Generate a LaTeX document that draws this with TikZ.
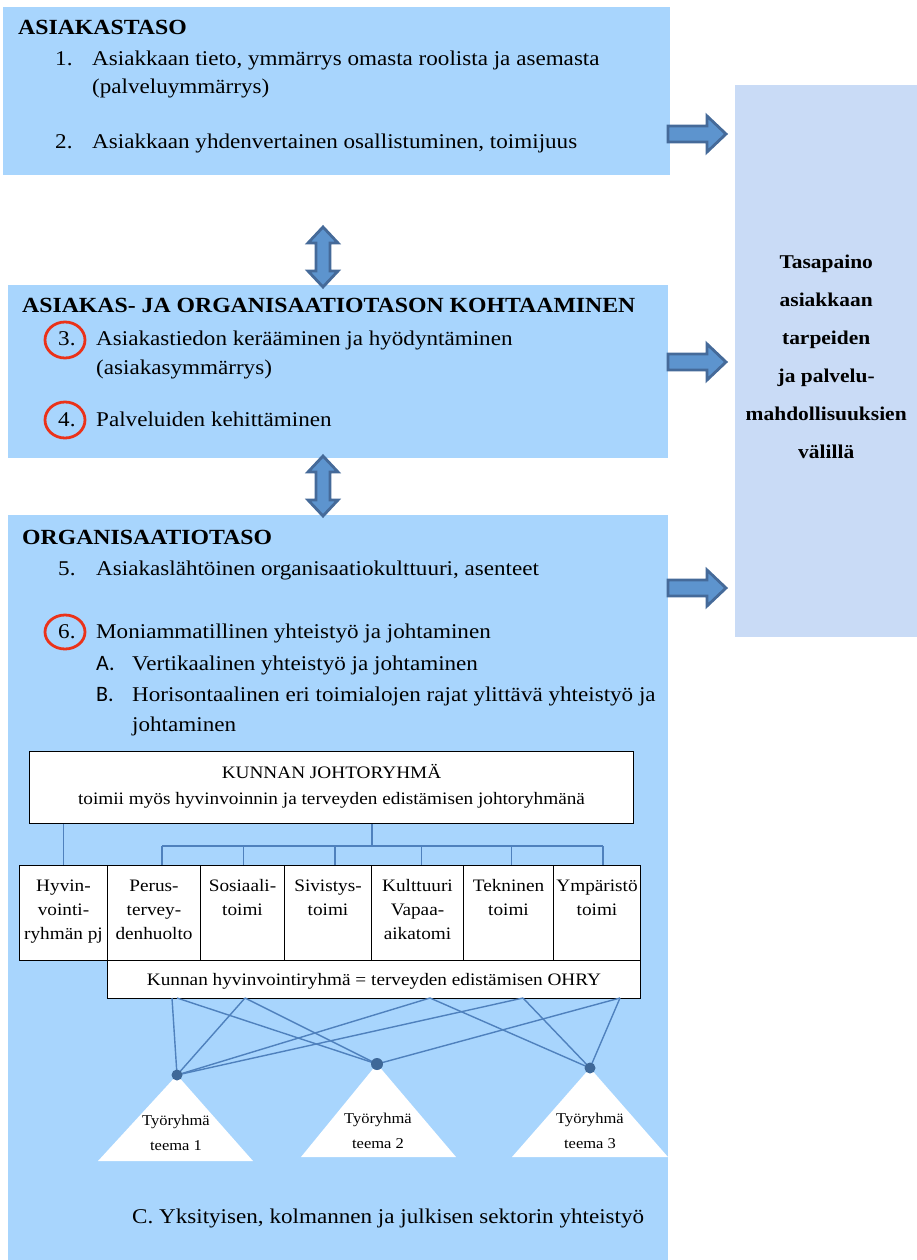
\documentclass[tikz,border=0pt]{standalone}
\usepackage{fontspec}
\setmainfont{Liberation Serif}[FakeStretch=1.1]
\newfontfamily\labelsans{Carlito}
\usetikzlibrary{calc}

\definecolor{levelblue}{RGB}{168,213,253}
\definecolor{balanceblue}{RGB}{201,219,246}
\definecolor{arrowdark}{RGB}{69,106,153}
\definecolor{arrowfill}{RGB}{93,148,206}
\definecolor{linkblue}{RGB}{79,129,189}
\definecolor{dotblue}{RGB}{62,104,152}
\definecolor{ringred}{RGB}{235,50,25}

\tikzset{
  levelbox/.style={fill=levelblue, inner sep=0pt, anchor=north west},
  balancebox/.style={fill=balanceblue, inner sep=0pt, anchor=north west},
  cellbox/.style={draw=black, fill=white, line width=1pt, inner sep=0pt, anchor=north west},
  bodytext/.style={font=\fontsize{21}{25}\selectfont, inner sep=0pt, anchor=base west},
  headtext/.style={font=\fontsize{21.6}{25}\selectfont\bfseries, inner sep=0pt, anchor=base west},
  lettertext/.style={font=\fontsize{22}{26}\selectfont\labelsans, inner sep=0pt, anchor=base west},
  balancetext/.style={font=\fontsize{19.5}{24}\selectfont\bfseries, inner sep=0pt, anchor=base},
  celltext/.style={font=\fontsize{17.5}{22}\selectfont, inner sep=0pt, anchor=base},
  teamtext/.style={font=\fontsize{15}{18}\selectfont, inner sep=0pt, anchor=base},
  ring/.style={draw=ringred, line width=2.8pt},
  orgline/.style={draw=linkblue, line width=1.2pt},
  teamline/.style={draw=linkblue, line width=1.4pt},
  blockarrow/.style={draw=arrowdark, fill=arrowfill, line width=2.8pt, line join=miter},
  rarrow/.pic={\draw[blockarrow] (0,-8) -- (39,-8) -- (39,-18) -- (58,0) -- (39,18) -- (39,8) -- (0,8) -- cycle;},
  udarrow/.pic={\draw[blockarrow] (0,1) -- (15,17) -- (7,17) -- (7,45) -- (15,45) -- (0,61) -- (-15,45) -- (-7,45) -- (-7,17) -- (-15,17) -- cycle;}
}

% multi-line labels centred in a cell, one node per line
\newcommand\celllines[2]{%
  \foreach \cl [count=\k] in {#2} {%
    \node[celltext] (#1-\k) at ($(#1.north)+(0,26+24*\k-24)$) {\cl};}}

\begin{document}
\begin{tikzpicture}[x=1pt,y=-1pt]
\useasboundingbox (0,0) rectangle (917,1260);

% the three levels and the balance column
\node[levelbox, minimum width=667, minimum height=168] (client) at (3,7) {};
\node[levelbox, minimum width=660, minimum height=173] (meeting) at (8,285) {};
\node[levelbox, minimum width=660, minimum height=745] (organisation) at (8,515) {};
\node[balancebox, minimum width=182, minimum height=552] (balance) at (735,85) {};

% arrows towards the balance column and between the levels
\pic at (668,134) {rarrow};
\pic at (668,362) {rarrow};
\pic at (668,588) {rarrow};
\pic at (323,226) {udarrow};
\pic at (323,455) {udarrow};

% client level
\node[headtext] (clientHead) at (18,35) {ASIAKASTASO};
\node[bodytext] (n1) at (55,66) {1.};
\node[bodytext] (t1a) at (92,66) {Asiakkaan tieto, ymmärrys omasta roolista ja asemasta};
\node[bodytext] (t1b) at (92,94) {(palveluymmärrys)};
\node[bodytext] (n2) at (55,149) {2.};
\node[bodytext] (t2) at (92,149) {Asiakkaan yhdenvertainen osallistuminen, toimijuus};

% meeting of client and organisation
\node[headtext] (meetingHead) at (22,312) {ASIAKAS- JA ORGANISAATIOTASON KOHTAAMINEN};
\node[bodytext] (n3) at (58,345) {3.};
\node[bodytext] (t3a) at (96,345) {Asiakastiedon kerääminen ja hyödyntäminen};
\node[bodytext] (t3b) at (96,374) {(asiakasymmärrys)};
\node[bodytext] (n4) at (58,426) {4.};
\node[bodytext] (t4) at (96,426) {Palveluiden kehittäminen};
\draw[ring] (65,340) ellipse [x radius=20, y radius=18];
\draw[ring] (65,420) ellipse [x radius=20, y radius=18];

% organisation level
\node[headtext] (orgHead) at (22,544) {ORGANISAATIOTASO};
\node[bodytext] (n5) at (58,575) {5.};
\node[bodytext] (t5) at (96,575) {Asiakaslähtöinen organisaatiokulttuuri, asenteet};
\node[bodytext] (n6) at (58,638) {6.};
\node[bodytext] (t6) at (96,638) {Moniammatillinen yhteistyö ja johtaminen};
\draw[ring] (65,632) ellipse [x radius=20, y radius=17];
\node[lettertext] (nA) at (96,670) {A.};
\node[bodytext] (tA) at (132,670) {Vertikaalinen yhteistyö ja johtaminen};
\node[lettertext] (nB) at (96,701) {B.};
\node[bodytext] (tBa) at (132,701) {Horisontaalinen eri toimialojen rajat ylittävä yhteistyö ja};
\node[bodytext] (tBb) at (132,731) {johtaminen};

% organisation chart
\node[cellbox, minimum width=604, minimum height=72] (board) at (29,751) {};
\node[celltext] (boardA) at ($(board.north)+(0,27)$) {KUNNAN JOHTORYHMÄ};
\node[celltext] (boardB) at ($(board.north)+(0,53)$) {toimii myös hyvinvoinnin ja terveyden edistämisen johtoryhmänä};

\node[cellbox, minimum width=533, minimum height=38] (ohry) at (107,960) {};
\node[celltext] (ohryText) at ($(ohry.north)+(0,25)$) {Kunnan hyvinvointiryhmä = terveyden edistämisen OHRY};

\node[cellbox, minimum width=88, minimum height=95] (hyvin) at (19,865) {};
\node[cellbox, minimum width=93, minimum height=95] (perus) at (107,865) {};
\node[cellbox, minimum width=84, minimum height=95] (sos) at (200,865) {};
\node[cellbox, minimum width=87, minimum height=95] (siv) at (284,865) {};
\node[cellbox, minimum width=92, minimum height=95] (kult) at (371,865) {};
\node[cellbox, minimum width=90, minimum height=95] (tek) at (463,865) {};
\node[cellbox, minimum width=87, minimum height=95] (ymp) at (553,865) {};

\celllines{hyvin}{Hyvin-,vointi-,ryhmän pj}
\celllines{perus}{Perus-,tervey-,denhuolto}
\celllines{sos}{Sosiaali-,toimi}
\celllines{siv}{Sivistys-,toimi}
\celllines{kult}{Kulttuuri,Vapaa-,aikatomi}
\celllines{tek}{Tekninen,toimi}
\celllines{ymp}{Ympäristö,toimi}

\coordinate (bus) at (372,846);
\draw[orgline] (board.south -| hyvin.north) -- (hyvin.north);
\draw[orgline] (board.south -| bus) -- (bus);
\draw[orgline] ([xshift=8pt]perus.north |- bus) -- ([xshift=6pt]ymp.north |- bus);
\draw[orgline] ([xshift=8pt]perus.north |- bus) -- ([xshift=8pt]perus.north);
\draw[orgline] ([xshift=1pt]sos.north |- bus) -- ([xshift=1pt]sos.north);
\draw[orgline] ([xshift=7pt]siv.north |- bus) -- ([xshift=7pt]siv.north);
\draw[orgline] ([xshift=4pt]kult.north |- bus) -- ([xshift=4pt]kult.north);
\draw[orgline] ([xshift=3pt]tek.north |- bus) -- ([xshift=3pt]tek.north);
\draw[orgline] ([xshift=6pt]ymp.north |- bus) -- ([xshift=6pt]ymp.north);

% working groups
\coordinate (g1) at (177,1075);
\coordinate (g2) at (377,1064);
\coordinate (g3) at (590,1068);
\coordinate (o1) at (172,998);
\coordinate (o1b) at (177,998);
\coordinate (o2) at (245,998);
\coordinate (o3) at (430,998);
\coordinate (o4) at (523,998);
\coordinate (o5) at (620,998);

\draw[teamline] (o1) -- (g1);
\draw[teamline] (o1b) -- (g2);
\draw[teamline] (o2) -- (g1);
\draw[teamline] (o2) -- (g2);
\draw[teamline] (o3) -- (g1);
\draw[teamline] (o3) -- (g3);
\draw[teamline] (o4) -- (g1);
\draw[teamline] (o4) -- (g3);
\draw[teamline] (o5) -- (g2);
\draw[teamline] (o5) -- (g3);

\fill[white] (g1) -- (253,1161) -- (98,1161) -- cycle;
\fill[white] (g2) -- (456,1157) -- (301,1157) -- cycle;
\fill[white] (g3) -- (668,1157) -- (512,1157) -- cycle;
\fill[dotblue] (g1) circle [radius=5.5];
\fill[dotblue] (g2) circle [radius=6];
\fill[dotblue] (g3) circle [radius=5.5];

\node[teamtext] (g1a) at (176,1125) {Työryhmä};
\node[teamtext] (g1b) at (176,1150) {teema 1};
\node[teamtext] (g2a) at (378,1123) {Työryhmä};
\node[teamtext] (g2b) at (378,1148) {teema 2};
\node[teamtext] (g3a) at (590,1123) {Työryhmä};
\node[teamtext] (g3b) at (590,1148) {teema 3};

\node[bodytext] (tC) at (132,1223) {C. Yksityisen, kolmannen ja julkisen sektorin yhteistyö};

% balance column text
\foreach \bl [count=\k] in {Tasapaino,asiakkaan,tarpeiden,ja palvelu-,mahdollisuuksien,välillä}
  \node[balancetext] (bal-\k) at ($(balance.north)+(0,183+38*\k-38)$) {\bl};

\end{tikzpicture}
\end{document}
